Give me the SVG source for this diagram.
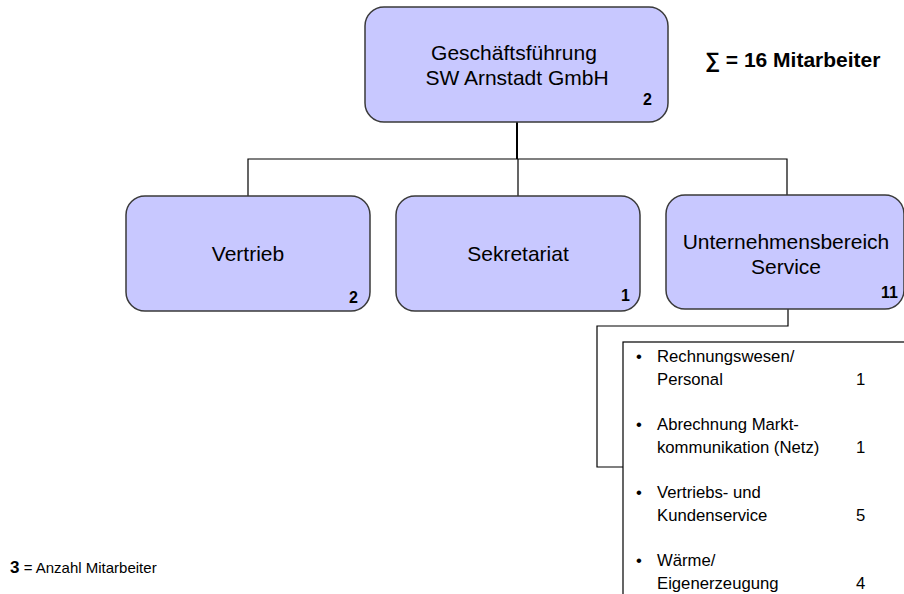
<svg xmlns="http://www.w3.org/2000/svg" width="904" height="594" viewBox="0 0 904 594">
<style>
.box{fill:#C8C8FF;stroke:#3a3a3a;stroke-width:1.5}
.t{font-family:"Liberation Sans",Arial,sans-serif;font-size:21px;fill:#000;text-anchor:middle}
.n{font-family:"Liberation Sans",Arial,sans-serif;font-size:16px;font-weight:bold;fill:#000;text-anchor:end}
.l{font-family:"Liberation Sans",Arial,sans-serif;font-size:16.7px;fill:#000}
.c{fill:none;stroke:#000;stroke-width:1.2}
</style>
<rect x="0" y="0" width="904" height="594" fill="#fff"/>
<g id="connectors">
<path class="c" d="M517,122 V159" style="stroke-width:2"/>
<path class="c" d="M248,196 V159 H787 V196 M518,159 V196"/>
<path class="c" d="M788,309 V326 H597 V467 H623"/>
</g>
<g id="geschaeftsfuehrung">
<rect class="box" x="365" y="7" width="303" height="115" rx="19"/>
<text class="t" x="514" y="60">Geschäftsführung</text>
<text class="t" x="517" y="85">SW Arnstadt GmbH</text>
<text class="n" x="652" y="105">2</text>
</g>
<g id="summe">
<text x="705" y="67" style="font-family:'Liberation Sans',Arial,sans-serif;font-size:21px;font-weight:bold">∑ = 16 Mitarbeiter</text>
</g>
<g id="vertrieb">
<rect class="box" x="126" y="196" width="244" height="115" rx="19"/>
<text class="t" x="248" y="261">Vertrieb</text>
<text class="n" x="358" y="303">2</text>
</g>
<g id="sekretariat">
<rect class="box" x="396" y="196" width="244" height="115" rx="19"/>
<text class="t" x="518" y="261">Sekretariat</text>
<text class="n" x="630" y="301">1</text>
</g>
<g id="unternehmensbereich">
<rect class="box" x="666" y="195" width="238" height="114" rx="19"/>
<text class="t" x="786" y="249">Unternehmensbereich</text>
<text class="t" x="786" y="274">Service</text>
<text class="n" x="898" y="298">11</text>
</g>
<g id="serviceliste">
<rect x="623" y="342" width="310" height="280" fill="#fff" stroke="#000" stroke-width="1.2"/>
<g class="l">
<text x="636" y="362">•</text>
<text x="657" y="362">Rechnungswesen/</text>
<text x="657" y="385">Personal</text>
<text x="856" y="385">1</text>
<text x="636" y="430">•</text>
<text x="657" y="430">Abrechnung Markt-</text>
<text x="657" y="453">kommunikation (Netz)</text>
<text x="856" y="453">1</text>
<text x="636" y="498">•</text>
<text x="657" y="498">Vertriebs- und</text>
<text x="657" y="521">Kundenservice</text>
<text x="856" y="521">5</text>
<text x="636" y="566">•</text>
<text x="657" y="566">Wärme/</text>
<text x="657" y="589">Eigenerzeugung</text>
<text x="856" y="589">4</text>
</g>
</g>
<g id="legende">
<text x="10" y="573" style="font-family:'Liberation Sans',Arial,sans-serif;font-size:15px"><tspan style="font-size:17px;font-weight:bold">3</tspan> = Anzahl Mitarbeiter</text>
</g>
</svg>
